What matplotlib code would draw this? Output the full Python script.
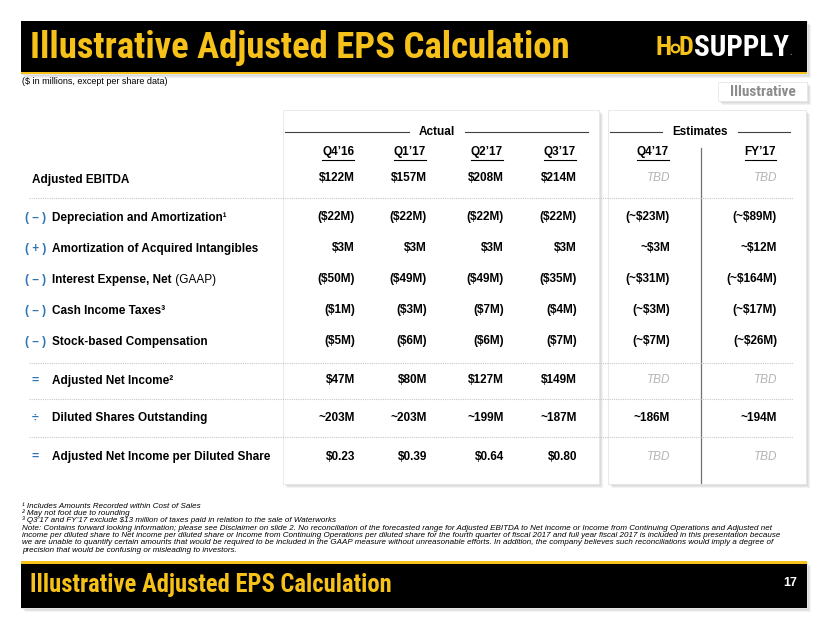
import os
import matplotlib
matplotlib.use("Agg")
import matplotlib.pyplot as plt
from matplotlib.patches import Rectangle
from matplotlib import font_manager
from matplotlib.font_manager import FontProperties

# ---------------- data ----------------
row_prefixes = ["", "( – )", "( + )", "( – )", "( – )", "( – )", "=", "÷", "="]
row_labels = ["Adjusted EBITDA", "Depreciation and Amortization¹",
              "Amortization of Acquired Intangibles", "Interest Expense, Net",
              "Cash Income Taxes³", "Stock-based Compensation",
              "Adjusted Net Income²", "Diluted Shares Outstanding",
              "Adjusted Net Income per Diluted Share"]
columns = ["Q4’16", "Q1’17", "Q2’17", "Q3’17", "Q4’17", "FY’17"]
q4_16 = ["$122M", "($22M)", "$3M", "($50M)", "($1M)", "($5M)", "$47M", "~203M", "$0.23"]
q1_17 = ["$157M", "($22M)", "$3M", "($49M)", "($3M)", "($6M)", "$80M", "~203M", "$0.39"]
q2_17 = ["$208M", "($22M)", "$3M", "($49M)", "($7M)", "($6M)", "$127M", "~199M", "$0.64"]
q3_17 = ["$214M", "($22M)", "$3M", "($35M)", "($4M)", "($7M)", "$149M", "~187M", "$0.80"]
q4_17 = ["TBD", "(~$23M)", "~$3M", "(~$31M)", "(~$3M)", "(~$7M)", "TBD", "~186M", "TBD"]
fy_17 = ["TBD", "(~$89M)", "~$12M", "(~$164M)", "(~$17M)", "(~$26M)", "TBD", "~194M", "TBD"]
col_values = [q4_16, q1_17, q2_17, q3_17, q4_17, fy_17]

title = "Illustrative Adjusted EPS Calculation"
subtitle = "($ in millions, except per share data)"
footnotes = [
    "¹ Includes Amounts Recorded within Cost of Sales",
    "² May not foot due to rounding",
    "³ Q3’17 and FY’17 exclude $13 million of taxes paid in relation to the sale of Waterworks",
    "Note: Contains forward looking information; please see Disclaimer on slide 2. No reconciliation of the forecasted range for Adjusted EBITDA to Net income or Income from Continuing Operations and Adjusted net",
    "income per diluted share to Net income per diluted share or Income from Continuing Operations per diluted share for the fourth quarter of fiscal 2017 and full year fiscal 2017 is included in this presentation because",
    "we are unable to quantify certain amounts that would be required to be included in the GAAP measure without unreasonable efforts. In addition, the company believes such reconciliations would imply a degree of",
    "precision that would be confusing or misleading to investors.",
]
page_number = "17"

# ---------------- fonts ----------------
names = {f.name for f in font_manager.fontManager.ttflist}
SANS = "Liberation Sans" if "Liberation Sans" in names else "DejaVu Sans"
paths = [f.fname for f in font_manager.fontManager.ttflist]


def find_font(patterns):
    for p in patterns:
        for path in paths:
            if os.path.basename(path).lower().replace(" ", "").startswith(p.lower()):
                return path
    return None


bold_narrow = find_font(["LiberationSansNarrow-Bold.", "ArialNarrow-Bold", "ArialNarrowBold",
                         "RobotoCondensed-Bold.", "DejaVuSansCondensed-Bold.",
                         "OpenSans_Condensed-Bold", "OpenSansCondensed-Bold"])


def fp_bold_narrow(size):
    if bold_narrow:
        return FontProperties(fname=bold_narrow, size=size)
    return FontProperties(family=SANS, weight="bold", size=size)


YELLOW = "#F6C21A"
BLUE = "#2E75B6"
GRAY_TBD = "#B5B5B5"

fig = plt.figure(figsize=(8.3, 6.23), dpi=100)
ax = fig.add_axes([0, 0, 1, 1])
ax.set_xlim(0, 830)
ax.set_ylim(623, 0)
ax.axis("off")
renderer = fig.canvas.get_renderer()


def extent(t):
    bb = t.get_window_extent(renderer)
    inv = ax.transData.inverted()
    (x0, y0), (x1, y1) = inv.transform([(bb.x0, bb.y0), (bb.x1, bb.y1)])
    return x0, x1, min(y0, y1), max(y0, y1)


def fit(t, target_w, max_size=None):
    x0, x1, _, _ = extent(t)
    s = t.get_fontsize() * target_w / (x1 - x0)
    if max_size is not None:
        s = min(s, max_size)
    t.set_fontsize(s)


def shadow_box(x0, y0, x1, y1, z=1):
    for i in range(1, 5):
        ax.add_patch(Rectangle((x0 + i, y0 + i), x1 - x0, y1 - y0,
                               facecolor="#808080", alpha=0.10, lw=0, zorder=z))
    ax.add_patch(Rectangle((x0, y0), x1 - x0, y1 - y0, facecolor="white",
                           edgecolor="#e6e6e6", lw=0.6, zorder=z + 0.5))


# top bar
shadow_box(21, 21, 807, 74, z=1)
ax.add_patch(Rectangle((21, 21), 786, 51, facecolor="black", lw=0, zorder=2))
ax.add_patch(Rectangle((21, 71.5), 786, 2.5, facecolor=YELLOW, lw=0, zorder=2))
t = ax.text(30, 48, title, color=YELLOW, fontproperties=fp_bold_narrow(26),
            va="center", ha="left", zorder=3)
fit(t, 542, max_size=27)

# logo
t1 = ax.text(655, 48, "H", color=YELLOW, fontproperties=fp_bold_narrow(19),
             va="center", ha="left", zorder=3)
x0, x1, _, _ = extent(t1)
ax.plot([x1 + 3.5], [48], marker="o", ms=5.5, mfc="black", mec=YELLOW, mew=1.6, zorder=4)
t2 = ax.text(x1 + 7, 48, "D", color=YELLOW, fontproperties=fp_bold_narrow(19),
             va="center", ha="left", zorder=3)
x0, x1, _, _ = extent(t2)
t3 = ax.text(x1 + 0.5, 48, "SUPPLY", color="white", fontproperties=fp_bold_narrow(19),
             va="center", ha="left", zorder=3)
fit(t3, 797 - (x1 + 0.5), max_size=21)
x0, x1, _, _ = extent(t3)
ax.text(x1 + 1, 53, ".", color="white", fontsize=5, va="center", zorder=3)

ts = ax.text(22, 81, subtitle, fontsize=6, family=SANS, va="center", ha="left")
fit(ts, 148)

shadow_box(718, 82, 807, 101, z=1)
ti = ax.text(763, 91.5, "Illustrative", color="#8C8C8C", fontproperties=fp_bold_narrow(10),
             va="center", ha="center", zorder=3)
fit(ti, 76, max_size=11)

# cards
shadow_box(283, 110, 599, 484, z=1)
shadow_box(608, 110, 806, 484, z=1)

# group headers
hy = 132
ax.plot([285, 409], [hy, hy], color="#404040", lw=0.8, zorder=3)
ax.plot([465, 588], [hy, hy], color="#404040", lw=0.8, zorder=3)
ax.text(437, hy, "Actual", fontsize=8.5, fontweight="bold", family=SANS,
        ha="center", va="center", zorder=3)
ax.plot([610, 662], [hy, hy], color="#404040", lw=0.8, zorder=3)
ax.plot([738, 790], [hy, hy], color="#404040", lw=0.8, zorder=3)
ax.text(700, hy, "Estimates", fontsize=8.5, fontweight="bold", family=SANS,
        ha="center", va="center", zorder=3)

# vertical separator in estimates
ax.plot([701, 701], [148, 483], color="#707070", lw=0.9, zorder=3)

col_right = [355, 427, 504, 577, 670, 777]
header_y = 152
for cx, name in zip(col_right, columns):
    th = ax.text(cx - 1, header_y, name, fontsize=8.5, fontweight="bold", family=SANS,
                 ha="right", va="center", zorder=3)
    x0, x1, y0, y1 = extent(th)
    ax.plot([x0, x1], [y1 + 1.5, y1 + 1.5], color="black", lw=0.8, zorder=3)

row_y = [180, 218, 249, 280, 311, 342, 381, 418, 457]
val_y_off = [-2, -1, -1, -1, -1, -1, -1, 0, 0]
for i, (pre, lab, y) in enumerate(zip(row_prefixes, row_labels, row_y)):
    if pre in ("=", "÷"):
        ax.text(35, y, pre, color=BLUE, fontsize=9, fontweight="bold", family=SANS,
                ha="center", va="center", zorder=3)
    elif pre:
        ax.text(25, y, pre, color=BLUE, fontsize=8.5, fontweight="bold", family=SANS,
                ha="left", va="center", zorder=3)
    lx = 32 if i == 0 else 52
    tl = ax.text(lx, y, lab, fontsize=8.5, fontweight="bold", family=SANS,
                 ha="left", va="center", zorder=3)
    if lab.startswith("Interest Expense"):
        x0, x1, _, _ = extent(tl)
        ax.text(x1, y, " (GAAP)", fontsize=8.5, family=SANS, ha="left",
                va="center", zorder=3)
    for cx, vals in zip(col_right, col_values):
        v = vals[i]
        if v == "TBD":
            ax.text(cx, y + val_y_off[i], v, fontsize=8.5, style="italic", color=GRAY_TBD,
                    family=SANS, ha="right", va="center", zorder=3)
        else:
            ax.text(cx, y + val_y_off[i], v, fontsize=8.5, fontweight="bold",
                    family=SANS, ha="right", va="center", zorder=3)

for sy in [198, 363, 399, 437]:
    ax.plot([29, 793], [sy, sy], color="#c8c8c8", lw=0.8, ls=(0, (1, 1)), zorder=3)

# footnotes
fy = [506, 513.3, 520.6, 528, 535.4, 542.8, 550.2]
fts = []
for s, y in zip(footnotes, fy):
    fts.append(ax.text(22, y, s, fontsize=5.5, style="italic", family=SANS,
                       ha="left", va="center", zorder=3))
widths = [extent(f)[1] - extent(f)[0] for f in fts]
fsize = min(5.5 * 780 / max(widths), 5.8)
for f in fts:
    f.set_fontsize(fsize)

# bottom bar
shadow_box(21, 562, 807, 608, z=1)
ax.add_patch(Rectangle((21, 562), 786, 46, facecolor="black", lw=0, zorder=2))
ax.add_patch(Rectangle((21, 561), 786, 2.5, facecolor=YELLOW, lw=0, zorder=2))
tb = ax.text(30, 585, title, color=YELLOW, fontproperties=fp_bold_narrow(18),
             va="center", ha="left", zorder=3)
fit(tb, 362, max_size=19)
ax.text(790, 583, page_number, color="white", fontsize=9, fontweight="bold",
        family=SANS, va="center", ha="center", zorder=3)

fig.savefig("out.png", dpi=100)
